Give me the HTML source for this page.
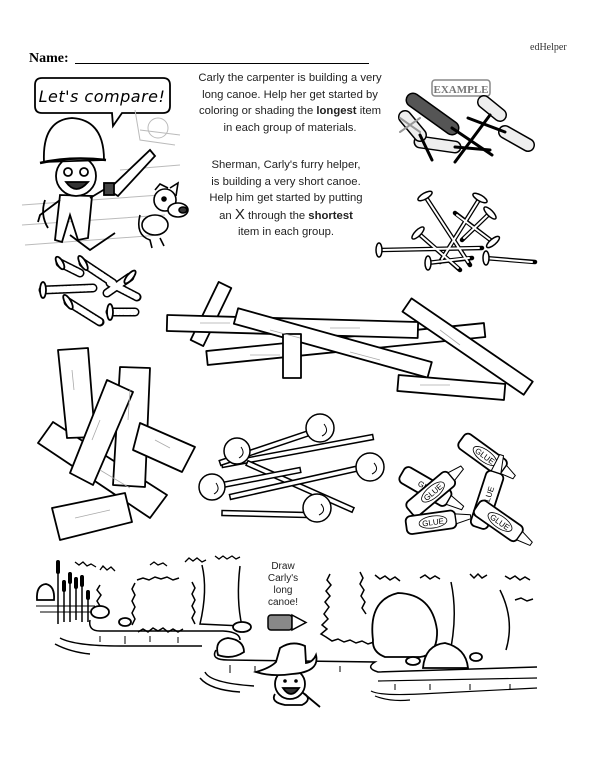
<!DOCTYPE html>
<html><head><meta charset="utf-8"><style>
html,body{margin:0;padding:0;background:#fff;}
body{width:600px;height:776px;position:relative;overflow:hidden;font-family:"Liberation Sans",sans-serif;}
.t{position:absolute;text-align:center;font-size:11.3px;line-height:16.6px;color:#222;white-space:nowrap;}
</style></head><body>
<div style="position:absolute;left:530px;top:42px;font:10px 'Liberation Serif',serif;color:#333">edHelper</div>
<div style="position:absolute;left:29px;top:51px;font:bold 14px 'Liberation Serif',serif">Name:</div>
<div style="position:absolute;left:75px;top:63px;width:294px;border-top:1.5px solid #000"></div>
<div class="t" style="left:186px;top:70px;width:208px">Carly the carpenter is building a very<br>long canoe. Help her get started by<br>coloring or shading the <b>longest</b> item<br>in each group of materials.</div>
<div class="t" style="left:196px;top:157px;width:180px">Sherman, Carly's furry helper,<br>is building a very short canoe.<br>Help him get started by putting<br>an <span style="font-size:15px">X</span> through the <b>shortest</b><br>item in each group.</div>
<div class="t" style="left:258px;top:561px;width:50px;font-size:10px;line-height:12px">Draw<br>Carly's<br>long<br>canoe!</div>
<svg width="600" height="776" style="position:absolute;left:0;top:0" xmlns="http://www.w3.org/2000/svg">
<!-- speech bubble -->
<path d="M42,78 H163 Q170,78 170,85 V106 Q170,113 163,113 H122 L113,126 L112,113 H42 Q35,113 35,106 V85 Q35,78 42,78Z" fill="#fff" stroke="#000" stroke-width="1.8"/>
<text x="102" y="102" text-anchor="middle" font-family="DejaVu Sans" font-style="italic" font-size="16" letter-spacing="0.5">Let's compare!</text>
<g stroke="#bbb" stroke-width="1" fill="none">
<path d="M22,205 L160,195 M22,225 L165,215 M25,245 L160,235 M140,130 L180,135 M120,170 L180,165 M135,110 L140,140 L175,145"/>
<circle cx="158" cy="128" r="10"/>
</g>
<!-- carly -->
<g stroke="#000" stroke-width="1.8" fill="#fff">
<path d="M45,200 Q40,215 48,228" fill="none"/>
<path d="M60,195 L55,240 L62,242 L70,215 L78,240 L88,238 L92,196Z"/>
<path d="M60,200 L40,215 L38,222" fill="none"/>
<path d="M90,198 L110,186" fill="none"/>
<path d="M70,235 L90,250 L115,233" fill="none"/>
<circle cx="76" cy="176" r="20"/>
<path d="M44,162 Q42,120 72,118 Q104,120 104,160 Z"/>
<path d="M40,163 Q70,156 106,160" fill="none" stroke-width="2.5"/>
<circle cx="68" cy="172" r="4"/><circle cx="84" cy="172" r="4"/>
<path d="M66,182 Q76,196 88,182 Z" fill="#333"/>
<path d="M108,190 L150,150 L155,156 L118,196Z"/>
<rect x="104" y="183" width="10" height="12" fill="#444"/>
</g>
<!-- dog -->
<g stroke="#000" stroke-width="1.6" fill="#fff">
<path d="M140,215 Q135,235 150,240 L152,248 M160,238 L164,246" fill="none"/>
<ellipse cx="155" cy="225" rx="13" ry="10"/>
<circle cx="165" cy="200" r="11"/>
<ellipse cx="178" cy="210" rx="10" ry="7"/>
<ellipse cx="183" cy="210" rx="4" ry="3" fill="#333"/>
<path d="M155,190 L160,184 L168,188 M170,188 L178,183 L176,196" fill="none"/>
<circle cx="164" cy="199" r="2" fill="#000"/>
</g>
<!-- example tools -->
<rect x="432" y="80" width="58" height="16" rx="3" fill="none" stroke="#888" stroke-width="1.5"/>
<text x="461" y="93" text-anchor="middle" font-family="Liberation Serif" font-weight="bold" font-size="11" fill="#777">EXAMPLE</text>
<g stroke-linecap="round">
<line x1="420" y1="142" x2="455" y2="147" stroke="#000" stroke-width="13"/><line x1="420" y1="142" x2="455" y2="147" stroke="#eee" stroke-width="10"/>
<line x1="455" y1="147" x2="490" y2="150" stroke="#000" stroke-width="3"/>
<line x1="405" y1="117" x2="420" y2="135" stroke="#000" stroke-width="14"/><line x1="405" y1="117" x2="420" y2="135" stroke="#eee" stroke-width="11"/>
<line x1="420" y1="135" x2="432" y2="160" stroke="#000" stroke-width="3"/>
<line x1="413" y1="100" x2="452" y2="128" stroke="#000" stroke-width="15"/><line x1="413" y1="100" x2="452" y2="128" stroke="#555" stroke-width="12"/>
<line x1="452" y1="128" x2="492" y2="155" stroke="#000" stroke-width="3"/>
<line x1="484" y1="102" x2="500" y2="115" stroke="#000" stroke-width="14"/><line x1="484" y1="102" x2="500" y2="115" stroke="#eee" stroke-width="11"/>
<line x1="490" y1="115" x2="455" y2="162" stroke="#000" stroke-width="3"/>
<line x1="505" y1="132" x2="528" y2="145" stroke="#000" stroke-width="14"/><line x1="505" y1="132" x2="528" y2="145" stroke="#eee" stroke-width="11"/>
<line x1="505" y1="132" x2="468" y2="118" stroke="#000" stroke-width="3"/>
<line x1="400" y1="118" x2="420" y2="132" stroke="#999" stroke-width="2"/><line x1="420" y1="118" x2="400" y2="132" stroke="#999" stroke-width="2"/>
</g>
<!-- nails -->
<g stroke-linecap="round">
<g stroke="#000" stroke-width="4.5">
<line x1="425" y1="196" x2="470" y2="265"/><line x1="480" y1="198" x2="440" y2="262"/><line x1="378" y1="250" x2="482" y2="248"/><line x1="427" y1="263" x2="472" y2="258"/><line x1="485" y1="258" x2="535" y2="262"/><line x1="490" y1="213" x2="462" y2="240"/><line x1="493" y1="242" x2="455" y2="213"/><line x1="418" y1="233" x2="460" y2="270"/>
</g>
<g stroke="#fff" stroke-width="2">
<line x1="425" y1="196" x2="468" y2="262"/><line x1="480" y1="198" x2="442" y2="259"/><line x1="378" y1="250" x2="479" y2="248"/><line x1="427" y1="263" x2="469" y2="258"/><line x1="485" y1="258" x2="532" y2="262"/><line x1="490" y1="213" x2="464" y2="238"/><line x1="493" y1="242" x2="457" y2="215"/><line x1="418" y1="233" x2="458" y2="268"/>
</g>
</g>
<g stroke="#000" fill="#fff" stroke-width="1.5">
<ellipse cx="425" cy="196" rx="8" ry="3" transform="rotate(-30 425 196)"/>
<ellipse cx="480" cy="198" rx="8" ry="3" transform="rotate(30 480 198)"/>
<ellipse cx="379" cy="250" rx="3" ry="7"/>
<ellipse cx="428" cy="263" rx="3" ry="7"/>
<ellipse cx="486" cy="258" rx="3" ry="7"/>
<ellipse cx="490" cy="213" rx="8" ry="3" transform="rotate(45 490 213)"/>
<ellipse cx="493" cy="242" rx="8" ry="3" transform="rotate(-40 493 242)"/>
<ellipse cx="418" cy="233" rx="8" ry="3" transform="rotate(-45 418 233)"/>
</g>
<!-- screws -->
<g stroke-linecap="round">
<g stroke="#000" stroke-width="9">
<line x1="60" y1="263" x2="80" y2="273"/><line x1="83" y1="263" x2="113" y2="283"/><line x1="43" y1="290" x2="93" y2="288"/><line x1="68" y1="302" x2="100" y2="322"/><line x1="130" y1="277" x2="107" y2="293"/><line x1="110" y1="283" x2="137" y2="297"/><line x1="110" y1="312" x2="135" y2="312"/>
</g>
<g stroke="#fff" stroke-width="6" stroke-dasharray="2 1.5">
<line x1="60" y1="263" x2="80" y2="273"/><line x1="83" y1="263" x2="113" y2="283"/><line x1="43" y1="290" x2="93" y2="288"/><line x1="68" y1="302" x2="100" y2="322"/><line x1="130" y1="277" x2="107" y2="293"/><line x1="110" y1="283" x2="137" y2="297"/><line x1="110" y1="312" x2="135" y2="312"/>
</g>
<g fill="#fff" stroke="#000" stroke-width="1.8">
<ellipse cx="83" cy="263" rx="3" ry="8" transform="rotate(-30 83 263)"/><ellipse cx="43" cy="290" rx="3" ry="8"/><ellipse cx="68" cy="302" rx="3" ry="8" transform="rotate(-30 68 302)"/><ellipse cx="130" cy="277" rx="3" ry="8" transform="rotate(40 130 277)"/><ellipse cx="110" cy="312" rx="3" ry="8"/><ellipse cx="60" cy="263" rx="3" ry="7" transform="rotate(-30 60 263)"/>
</g>
</g>
<!-- planks big group -->
<g fill="#fff" stroke="#000" stroke-width="1.8" stroke-linejoin="round">
<rect x="0" y="-7" width="64.4" height="14" transform="translate(225,285) rotate(115.8)"/>
<rect x="0" y="-7" width="279" height="14" transform="translate(207,358) rotate(-5.75)"/>
<rect x="0" y="-8" width="251" height="16" transform="translate(167,323) rotate(1.6)"/>
<rect x="0" y="-8" width="201" height="16" transform="translate(236,316) rotate(15.55)"/>
<rect x="283" y="334" width="18" height="44"/>
<rect x="0" y="-8" width="107" height="16" transform="translate(398,383) rotate(4.8)"/>
<rect x="0" y="-8" width="147" height="16" transform="translate(407,305) rotate(34.45)"/>
</g>
<g stroke="#aaa" stroke-width="0.8"><path d="M200,323 H230 M330,328 H360 M270,330 L300,338 M350,352 L380,360 M440,330 L460,345 M420,385 H450 M250,355 H280"/></g>
<!-- left boards -->
<g fill="#fff" stroke="#000" stroke-width="1.8" stroke-linejoin="round">
<polygon points="38,443 53,422 167,495 150,518"/>
<polygon points="58,350 88,348 95,437 67,438"/>
<polygon points="120,367 150,368 145,487 113,485"/>
<polygon points="107,380 133,392 93,485 70,473"/>
<polygon points="140,423 195,447 182,472 133,450"/>
<polygon points="52,508 125,493 132,522 60,540"/>
</g>
<g stroke="#aaa" stroke-width="0.8"><path d="M72,370 L74,390 M130,390 L128,420 M100,420 L92,440 M155,440 L170,448 M75,518 L110,510 M100,470 L130,488"/></g>
<!-- tape measures -->
<g fill="#fff" stroke="#000" stroke-width="1.5">
<rect x="0" y="-2.5" width="153.6" height="5" transform="translate(222,465) rotate(-10.5)"/>
<rect x="0" y="-2.5" width="116" height="5" transform="translate(247,463) rotate(23.9)"/>
<rect x="0" y="-2.5" width="97" height="5" transform="translate(220,463) rotate(-18.6)"/>
<rect x="0" y="-2.5" width="133" height="5" transform="translate(230,497) rotate(-12.6)"/>
<rect x="0" y="-2.5" width="85" height="5" transform="translate(222,513) rotate(1.35)"/>
<rect x="0" y="-2.5" width="90" height="5" transform="translate(212,487) rotate(-10.9)"/>
<circle cx="320" cy="428" r="14"/><circle cx="237" cy="451" r="13"/><circle cx="212" cy="487" r="13"/><circle cx="370" cy="467" r="14"/><circle cx="317" cy="508" r="14"/>
</g>
<g fill="none" stroke="#000" stroke-width="1"><path d="M324,424 Q330,432 322,436 M241,447 Q246,454 239,458 M216,483 Q221,490 214,494 M374,463 Q380,470 372,474 M321,504 Q327,511 319,515"/></g>
<!-- glue -->
<g font-family="Liberation Sans" font-size="8" text-anchor="middle">
<g transform="translate(485,456) rotate(36)"><rect x="-29" y="-9" width="52" height="18" rx="5" fill="#fff" stroke="#000" stroke-width="1.8"/><path d="M23,-5 L36,-2 L36,2 L23,5Z" fill="#fff" stroke="#000"/><ellipse rx="14" ry="6" fill="none" stroke="#000" stroke-width="0.8"/><text y="3">GLUE</text></g>
<g transform="translate(428,488) rotate(30)"><rect x="-30" y="-9" width="54" height="18" rx="5" fill="#fff" stroke="#000" stroke-width="1.8"/><path d="M24,-5 L40,-2 L40,2 L24,5Z" fill="#fff" stroke="#000"/><text y="3">GLUE</text></g>
<g transform="translate(433,492) rotate(-40)"><rect x="-30" y="-9" width="54" height="18" rx="5" fill="#fff" stroke="#000" stroke-width="1.8"/><path d="M24,-5 L38,-2 L38,2 L24,5Z" fill="#fff" stroke="#000"/><ellipse rx="14" ry="6" fill="none" stroke="#000" stroke-width="0.8"/><text y="3">GLUE</text></g>
<g transform="translate(488,497) rotate(-72)"><rect x="-32" y="-9" width="58" height="18" rx="5" fill="#fff" stroke="#000" stroke-width="1.8"/><path d="M26,-5 L44,-2 L44,2 L26,5Z" fill="#fff" stroke="#000"/><text y="3">GLUE</text></g>
<g transform="translate(433,522) rotate(-8)"><rect x="-27" y="-9" width="50" height="18" rx="5" fill="#fff" stroke="#000" stroke-width="1.8"/><path d="M23,-5 L38,-2 L38,2 L23,5Z" fill="#fff" stroke="#000"/><ellipse rx="14" ry="6" fill="none" stroke="#000" stroke-width="0.8"/><text y="3">GLUE</text></g>
<g transform="translate(500,522) rotate(35)"><rect x="-28" y="-9" width="52" height="18" rx="5" fill="#fff" stroke="#000" stroke-width="1.8"/><path d="M24,-5 L38,-2 L38,2 L24,5Z" fill="#fff" stroke="#000"/><ellipse rx="14" ry="6" fill="none" stroke="#000" stroke-width="0.8"/><text y="3">GLUE</text></g>
</g>
<!-- bottom scene -->
<g fill="none" stroke="#000" stroke-width="1.5">
<!-- canopy scribbles -->
<path d="M75,562 l4,3 4,-3 4,4 4,-2 5,3 M100,570 l3,-4 4,4 4,-3 4,4 M150,565 l4,-3 4,3 5,-2 4,3 M185,562 l4,-4 4,3 4,-3 5,4 4,-2 M215,556 l4,3 4,-3 4,3 5,-3 4,3 4,-2" stroke-width="1.3"/>
<path d="M100,585 l-3,5 4,5 -4,6 3,5 -3,6 M135,583 l-3,6 3,6 -3,6 3,6 -3,6 3,6 -3,6 M137,580 l6,-2 6,2 6,-3 6,2 6,-2 6,3 6,-2 M192,582 l3,6 -3,6 3,6 -3,6 3,6 -3,6 3,6 M138,632 l5,-3 5,3 5,-4 5,3 5,-3 5,4 5,-3 5,3 5,-3"/>
<!-- tree trunk left -->
<path d="M202,565 Q208,590 200,624 L242,626 Q236,600 240,566"/>
<!-- spiky tree -->
<path d="M330,574 l-3,6 4,5 -5,6 4,5 -5,6 4,5 -5,7 4,5 -6,6 5,4 -6,5 5,3 6,4 6,-2 6,3 6,-2 6,3 6,-2 6,3 6,-2 M360,572 l3,6 -3,6 4,6 -3,6 4,6 -3,6 4,6"/>
<!-- right trees -->
<path d="M451,582 Q458,615 450,652 M500,590 Q515,620 506,650 M375,575 l5,4 5,-3 5,4 5,-3 5,4 M420,578 l5,-3 5,4 5,-3 5,3 M470,574 l4,4 4,-4 4,4 5,-3 M505,576 l5,3 5,-3 5,4 5,-3 5,3 M515,600 l6,-2 6,3 6,-2"/>
<!-- banks -->
<path d="M90,620 Q88,631 100,631 L223,631 Q240,632 240,640"/>
<path d="M60,638 Q75,646 120,646 L202,646 M55,644 Q70,652 90,654"/>
<path d="M216,650 Q210,660 228,660 L375,662 Q365,668 378,672 L537,667"/>
<path d="M205,672 Q210,683 254,686 M200,678 Q210,690 240,692"/>
<path d="M378,681 L537,678 M371,691 Q380,696 420,694 L537,688 M375,696 Q390,702 410,700" stroke-width="1.2"/>
<path d="M100,636 v6 M125,636 v8 M150,636 v6 M178,637 v6 M230,665 v8 M255,666 v6 M300,666 v6 M340,666 v6 M395,684 v6 M430,684 v6 M470,684 v6 M510,684 v6" stroke-width="1"/>
<!-- cattails -->
<path d="M58,562 V624 M64,580 V622 M70,572 V622 M76,577 V620 M82,575 V622 M88,590 V622"/>
<path d="M36,606 L95,606 M40,612 L95,612" stroke-width="1"/>
</g>
<g fill="#000"><rect x="56" y="560" width="4" height="14" rx="2"/><rect x="62" y="580" width="4" height="12" rx="2"/><rect x="68" y="572" width="4" height="12" rx="2"/><rect x="74" y="577" width="4" height="12" rx="2"/><rect x="80" y="575" width="4" height="12" rx="2"/><rect x="86" y="590" width="4" height="10" rx="2"/></g>
<g fill="#fff" stroke="#000" stroke-width="1.8">
<path d="M37,600 Q36,585 46,584 Q55,586 54,600Z"/>
<ellipse cx="100" cy="612" rx="9" ry="6"/><ellipse cx="125" cy="622" rx="6" ry="4"/>
<ellipse cx="242" cy="627" rx="9" ry="5"/>
<path d="M218,655 Q214,640 228,638 Q244,640 244,652 Q232,660 218,655Z"/>
<path d="M373,640 Q368,600 398,593 Q432,594 437,630 Q438,655 420,657 L385,657 Q372,652 373,640Z"/>
<path d="M423,668 Q425,645 445,643 Q466,648 468,668Z"/>
<ellipse cx="413" cy="661" rx="7" ry="4"/><ellipse cx="476" cy="657" rx="6" ry="4"/>
</g>
<!-- pencil -->
<g stroke="#000" stroke-width="1.5">
<rect x="268" y="615" width="24" height="15" rx="3" fill="#888"/>
<polygon points="292,615 306,622.5 292,630" fill="#fff"/>
</g>
<!-- girl with hat -->
<g fill="#fff" stroke="#000" stroke-width="1.8">
<path d="M275,694 Q270,702 285,705 L302,705 Q312,700 305,694"/>
<circle cx="290" cy="684" r="15"/>
<path d="M256,672 Q270,668 276,662 L280,648 Q292,640 305,646 L306,663 Q313,662 316,655 Q320,672 292,674 Q272,677 256,672Z"/>
<path d="M283,688 Q291,700 299,688Z" fill="#333"/>
<path d="M302,692 L320,707" />
</g>
<g fill="#000"><circle cx="285" cy="681" r="1.8"/><circle cx="296" cy="681" r="1.8"/></g>
</svg>
</body></html>
